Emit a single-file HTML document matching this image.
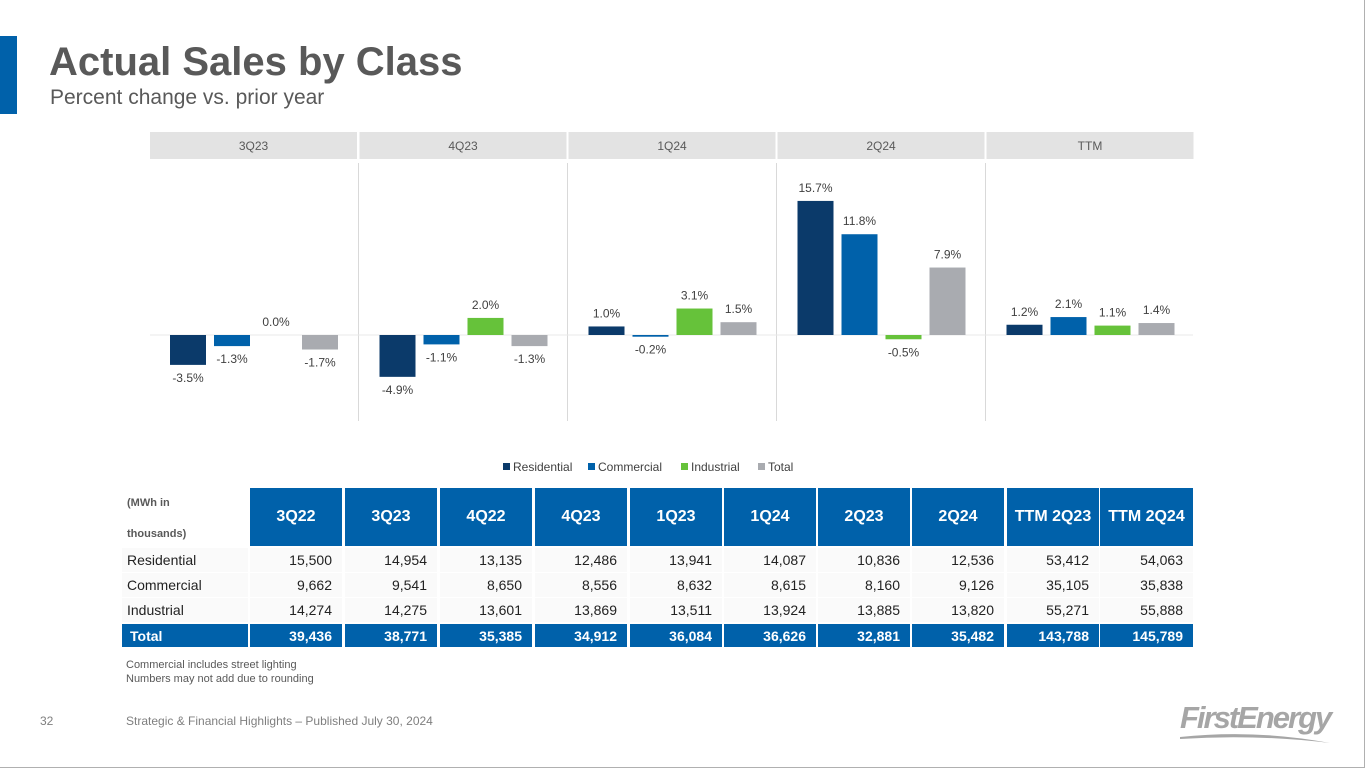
<!DOCTYPE html>
<html><head><meta charset="utf-8">
<style>
*{margin:0;padding:0;box-sizing:border-box}
body{width:1365px;height:768px;background:#fff;position:relative;overflow:hidden;font-family:"Liberation Sans",Arial,sans-serif}
.abs{position:absolute}
.frame{left:0;top:0;width:1365px;height:768px;border-right:1px solid #b0b0b0;border-bottom:1px solid #b0b0b0}
.nar{font-family:"Liberation Sans Narrow","Liberation Sans",Arial,sans-serif}
.cell{position:absolute;display:flex;align-items:center;justify-content:flex-end;padding-right:10px;font-size:14px;color:#222}
.hd{background:#0061aa;color:#fff;font-weight:bold;justify-content:center;padding:0;font-size:16px}
.tot{background:#0061aa;color:#fff;font-weight:bold}
</style></head>
<body>
<div class="abs frame"></div>
<div class="abs" style="left:0;top:36px;width:17px;height:78px;background:#0061aa"></div>
<div class="abs" style="left:49px;top:40px;font-size:40px;font-weight:bold;color:#595959">Actual Sales by Class</div>
<div class="abs" style="left:50px;top:86px;font-size:21px;color:#595959">Percent change vs. prior year</div>

<svg class="abs" style="left:0;top:0" width="1365" height="490" id="chart"></svg>

<div id="table"></div>

<div class="abs" style="left:126px;top:658px;font-size:11px;color:#595959;line-height:14px">Commercial includes street lighting<br>Numbers may not add due to rounding</div>
<div class="abs" style="left:40px;top:714px;font-size:12px;color:#7f7f7f">32</div>
<div class="abs" style="left:126px;top:714px;font-size:12px;color:#7f7f7f">Strategic &amp; Financial Highlights – Published July 30, 2024</div>
<div class="abs" style="left:1180px;top:700px;font-size:31px;font-weight:bold;font-style:italic;color:#a6a6a6;letter-spacing:-2px">FirstEnergy</div>
<svg class="abs" style="left:1175px;top:725px" width="170" height="25"><path d="M5 12 Q80 4 155 18 Q80 9 5 14Z" fill="#a6a6a6"/></svg>

<script>
const periods=["3Q23","4Q23","1Q24","2Q24","TTM"];
const series=["Residential","Commercial","Industrial","Total"];
const residential=[-3.5,-4.9,1.0,15.7,1.2];
const commercial=[-1.3,-1.1,-0.2,11.8,2.1];
const industrial=[0.0,2.0,3.1,-0.5,1.1];
const total=[-1.7,-1.3,1.5,7.9,1.4];
const colors=["#0b3a6a","#0061aa","#66c23a","#a9abb0"];
const vals=[residential,commercial,industrial,total];
const NS="http://www.w3.org/2000/svg";
const svg=document.getElementById('chart');
const zeroY=335,pxPer=8.54;
const panelX=[150,359.5,568.5,777.5,986.5],panelW=207;
function yScale(v){return zeroY-v*pxPer;}
function mk(t,a){const e=document.createElementNS(NS,t);for(const k in a)e.setAttribute(k,a[k]);svg.appendChild(e);return e;}
periods.forEach((p,i)=>{
  const r=mk('rect',{x:panelX[i],y:132,width:panelW,height:27,fill:'#e3e3e3'});
  
  
  const t=mk('text',{x:panelX[i]+panelW/2,y:150,'text-anchor':'middle','font-size':12,fill:'#595959'});
  t.textContent=p;
  
  
  if(i>0){const l=mk('line',{x1:panelX[i]-1,x2:panelX[i]-1,y1:163,y2:421,stroke:'#d9d9d9'});
  
  }
});
const zl=mk('line',{x1:150,x2:1193,y1:zeroY,y2:zeroY,stroke:'#e8e8e8'});


periods.forEach((p,i)=>{
  series.forEach((s,j)=>{
    const v=vals[j][i];
    const x=panelX[i]+20+j*44,w=36;
    const y0=yScale(Math.max(v,0)),y1=yScale(Math.min(v,0));
    const b=mk('rect',{x:x,y:y0,width:w,height:Math.max(y1-y0,0),fill:colors[j]});
    
    
    const ly=v>=0?y0-9:y1+17;
    const t=mk('text',{x:x+w/2,y:ly,'text-anchor':'middle','font-size':12,fill:'#404040'});
    t.textContent=v.toFixed(1)+'%';
    
    
  });
});
const legX=[503,588,681,758];
series.forEach((s,j)=>{
  const r=mk('rect',{x:legX[j],y:463,width:7,height:7,fill:colors[j]});
  
  
  const t=mk('text',{x:legX[j]+10,y:471,'font-size':12,fill:'#404040'});
  t.textContent=s;
  
  
});

const cols=["3Q22","3Q23","4Q22","4Q23","1Q23","1Q24","2Q23","2Q24","TTM 2Q23","TTM 2Q24"];
const rowNames=["Residential","Commercial","Industrial","Total"];
const resRow=["15,500","14,954","13,135","12,486","13,941","14,087","10,836","12,536","53,412","54,063"];
const comRow=["9,662","9,541","8,650","8,556","8,632","8,615","8,160","9,126","35,105","35,838"];
const indRow=["14,274","14,275","13,601","13,869","13,511","13,924","13,885","13,820","55,271","55,888"];
const totRow=["39,436","38,771","35,385","34,912","36,084","36,626","32,881","35,482","143,788","145,789"];
const rows=[resRow,comRow,indRow,totRow];
const colX=[250,345,440,535,630,724,818,912,1007,1100];
const rowY=[548,573,598,624];
const tb=document.getElementById('table');
function cell(cls,x,y,w,h,txt,name){const d=document.createElement('div');d.className='cell nar '+cls;d.style.left=x+'px';d.style.top=y+'px';d.style.width=w+'px';d.style.height=h+'px';d.textContent=txt;


tb.appendChild(d);return d;}
const u=cell('',122,488,126,58,'','units-label');
u.innerHTML='<span style="position:absolute;left:5px;top:9px;font-size:11px;color:#595959;font-weight:bold">(MWh in</span><span style="position:absolute;left:5px;top:40px;font-size:11px;color:#595959;font-weight:bold">thousands)</span>';
cols.forEach((c,i)=>{cell('hd',colX[i],488,i==9?93:92,58,c,'header-'+c.toLowerCase().replace(' ','-'));});
rows.forEach((r,ri)=>{
  const isT=ri==3;
  const lc=cell(isT?'tot':'',122,rowY[ri],126,isT?23:24,rowNames[ri],'row-label-'+rowNames[ri].toLowerCase());
  lc.style.justifyContent='flex-start';lc.style.paddingLeft=isT?'8px':'5px';
  if(!isT)lc.style.background='#fafafa';
  r.forEach((v,i)=>{const c=cell(isT?'tot':'',colX[i],rowY[ri],i==9?93:92,isT?23:24,v,'cell-'+rowNames[ri].toLowerCase()+'-'+i);
    if(!isT)c.style.background='#fafafa';});
});
</script>
</body></html>
